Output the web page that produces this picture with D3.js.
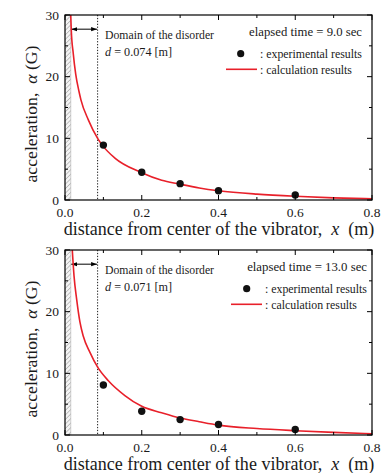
<!DOCTYPE html>
<html>
<head>
<meta charset="utf-8">
<script src="https://cdn.jsdelivr.net/npm/d3@7"></script>
<style>
  html, body { margin: 0; padding: 0; background: #fff; }
  svg { display: block; }
</style>
</head>
<body>
<svg id="chart" width="390" height="473" font-family="'Liberation Serif', 'Times New Roman', Times, serif"></svg>
<script>
// ---------------- DATA ----------------
const xTicks = [0.0, 0.2, 0.4, 0.6, 0.8];
const xTickLabels = ["0.0", "0.2", "0.4", "0.6", "0.8"];
const xMinorTicks = [0.1, 0.3, 0.5, 0.7];
const yTicks = [0, 10, 20, 30];
const yTickLabels = ["0", "10", "20", "30"];
const yMinorTicks = [5, 15, 25];

// Panel 1: elapsed time = 9.0 sec
const exp1X = [0.1, 0.2, 0.3, 0.4, 0.6];
const exp1Y = [8.9, 4.5, 2.65, 1.5, 0.8];
const calc1X = [0.0149, 0.0164, 0.0216, 0.0279, 0.0365, 0.0417, 0.0608, 0.085, 0.097, 0.130, 0.197, 0.252, 0.297, 0.35, 0.40, 0.50, 0.60, 0.70, 0.80];
const calc1Y = [30.0, 27.5, 23.7, 20.4, 17.6, 16.2, 13.0, 10.0, 8.9, 6.8, 4.5, 3.2, 2.6, 1.95, 1.5, 0.95, 0.6, 0.35, 0.2];
const time1 = "elapsed time = 9.0 sec";
const d1 = "0.074";

// Panel 2: elapsed time = 13.0 sec
const exp2X = [0.1, 0.2, 0.3, 0.4, 0.6];
const exp2Y = [8.1, 3.85, 2.5, 1.7, 0.9];
const calc2X = [0.019, 0.0235, 0.0304, 0.039, 0.0477, 0.065, 0.085, 0.113, 0.156, 0.20, 0.252, 0.30, 0.35, 0.40, 0.50, 0.60, 0.70, 0.80];
const calc2Y = [30.0, 25.8, 22.0, 18.3, 16.0, 13.4, 11.0, 8.8, 6.4, 4.65, 3.6, 2.75, 2.15, 1.6, 1.05, 0.7, 0.42, 0.2];
const time2 = "elapsed time = 13.0 sec";
const d2 = "0.071";

const vibratorEdge = 0.015;   // hatched region (vibrator)
const disorderEdge = [0.085, 0.085];
const arrowY = 27.7;

// -------------- DRAW ----------------
const svg = d3.select("#chart");
const defs = svg.append("defs");
const pat = defs.append("pattern")
  .attr("id", "hatch").attr("patternUnits", "userSpaceOnUse")
  .attr("width", 3.2).attr("height", 3.2)
  .attr("patternTransform", "rotate(45)");
pat.append("rect").attr("width", 3.2).attr("height", 3.2).attr("fill", "#f4f4f4");
pat.append("line").attr("x1", 0).attr("y1", 0).attr("x2", 0).attr("y2", 3.2)
  .attr("stroke", "#a0a0a0").attr("stroke-width", 1.2);

const marker = (id, orient) => {
  defs.append("marker").attr("id", id)
    .attr("viewBox", "0 0 10 10").attr("refX", 10).attr("refY", 5)
    .attr("markerWidth", 6).attr("markerHeight", 6)
    .attr("orient", orient)
    .append("path").attr("d", "M0,1.5 L10,5 L0,8.5 Z").attr("fill", "#000");
};
marker("arrEnd", "auto");
marker("arrStart", "auto-start-reverse");

// fit a text element's font size so that its rendered width equals target
function fit(sel, target) {
  const fs = +sel.attr("font-size");
  const w = sel.node().getComputedTextLength();
  if (w > 0) sel.attr("font-size", (fs * target / w).toFixed(2));
  return sel;
}

const W = 307, H = 185, L = 65;
const RED = "#e8202a";
const TXT = "#1a1a1a";

function panel(top, expX, expY, calcX, calcY, timeText, dText, legendShift, dEdge) {
  const x = d3.scaleLinear().domain([0, 0.8]).range([L, L + W]);
  const y = d3.scaleLinear().domain([0, 30]).range([top + H, top]);
  const g = svg.append("g");

  const clipId = "clip" + top;
  defs.append("clipPath").attr("id", clipId)
    .append("rect").attr("x", L).attr("y", top).attr("width", W).attr("height", H);

  // hatched vibrator region
  g.append("rect").attr("x", x(0)).attr("y", y(30))
    .attr("width", x(vibratorEdge) - x(0)).attr("height", y(0) - y(30))
    .attr("fill", "url(#hatch)");
  g.append("line").attr("x1", x(vibratorEdge)).attr("x2", x(vibratorEdge))
    .attr("y1", y(30)).attr("y2", y(0)).attr("stroke", "#b0b0b0").attr("stroke-width", 0.6);

  // dotted boundary line
  g.append("line").attr("x1", x(dEdge)).attr("x2", x(dEdge))
    .attr("y1", y(30)).attr("y2", y(0))
    .attr("stroke", "#000").attr("stroke-width", 0.9).attr("stroke-dasharray", "1.3,1.6");

  // arrow
  g.append("line").attr("x1", x(vibratorEdge) + 0.5).attr("x2", x(dEdge) - 0.5)
    .attr("y1", y(arrowY)).attr("y2", y(arrowY))
    .attr("stroke", "#000").attr("stroke-width", 1)
    .attr("marker-start", "url(#arrStart)").attr("marker-end", "url(#arrEnd)");

  // calculation curve
  const pts = calcX.map((v, i) => [v, calcY[i]]);
  g.append("path").datum(pts)
    .attr("clip-path", `url(#${clipId})`)
    .attr("fill", "none").attr("stroke", RED).attr("stroke-width", 1.6)
    .attr("d", d3.line().x(d => x(d[0])).y(d => y(d[1])).curve(d3.curveMonotoneX));

  // experimental points
  g.selectAll("circle.exp").data(expX.map((v, i) => [v, expY[i]])).enter()
    .append("circle").attr("class", "exp")
    .attr("cx", d => x(d[0])).attr("cy", d => y(d[1])).attr("r", 3.7).attr("fill", "#111");

  // frame
  g.append("rect").attr("x", L).attr("y", top).attr("width", W).attr("height", H)
    .attr("fill", "none").attr("stroke", "#000").attr("stroke-width", 1.2);

  // ticks (inward, all four sides)
  const tk = g.append("g").attr("stroke", "#000").attr("stroke-width", 1);
  xTicks.forEach(v => {
    tk.append("line").attr("x1", x(v)).attr("x2", x(v)).attr("y1", y(0)).attr("y2", y(0) - 5);
    tk.append("line").attr("x1", x(v)).attr("x2", x(v)).attr("y1", y(30)).attr("y2", y(30) + 5);
  });
  xMinorTicks.forEach(v => {
    tk.append("line").attr("x1", x(v)).attr("x2", x(v)).attr("y1", y(0)).attr("y2", y(0) - 3);
    tk.append("line").attr("x1", x(v)).attr("x2", x(v)).attr("y1", y(30)).attr("y2", y(30) + 3);
  });
  yTicks.forEach(v => {
    tk.append("line").attr("x1", L).attr("x2", L + 5).attr("y1", y(v)).attr("y2", y(v));
    tk.append("line").attr("x1", L + W).attr("x2", L + W - 5).attr("y1", y(v)).attr("y2", y(v));
  });
  yMinorTicks.forEach(v => {
    tk.append("line").attr("x1", L).attr("x2", L + 3).attr("y1", y(v)).attr("y2", y(v));
    tk.append("line").attr("x1", L + W).attr("x2", L + W - 3).attr("y1", y(v)).attr("y2", y(v));
  });

  // tick labels
  xTicks.forEach((v, i) => {
    g.append("text").attr("x", x(v)).attr("y", y(0) + 17).attr("text-anchor", "middle")
      .attr("font-size", 13.5).attr("fill", TXT).text(xTickLabels[i]);
  });
  yTicks.forEach((v, i) => {
    g.append("text").attr("x", L - 6).attr("y", y(v) + 4.5).attr("text-anchor", "end")
      .attr("font-size", 13.5).attr("fill", TXT).text(yTickLabels[i]);
  });

  // axis titles
  const xt = g.append("text").attr("x", 219).attr("y", top + H + 35).attr("text-anchor", "middle")
    .attr("font-size", 17).attr("fill", TXT).attr("xml:space", "preserve");
  xt.append("tspan").text("distance from center of the vibrator,  ");
  xt.append("tspan").attr("font-style", "italic").text("x");
  xt.append("tspan").text("  (m)");
  fit(xt, 311);

  const yt = g.append("text")
    .attr("transform", `translate(36.5,${top + 99}) rotate(-90)`)
    .attr("text-anchor", "middle").attr("font-size", 17).attr("fill", TXT)
    .attr("xml:space", "preserve");
  yt.append("tspan").text("acceleration,  ");
  yt.append("tspan").attr("font-style", "italic").text("α");
  yt.append("tspan").text(" (G)");
  fit(yt, 137);

  // annotation
  fit(g.append("text").attr("x", 105).attr("y", top + 24).attr("font-size", 12)
    .attr("fill", TXT).text("Domain of the disorder"), 109);
  const dt = g.append("text").attr("x", 105).attr("y", top + 41).attr("font-size", 12.2)
    .attr("fill", TXT).attr("xml:space", "preserve");
  dt.append("tspan").attr("font-style", "italic").text("d");
  dt.append("tspan").text(" = " + dText + " [m]");

  // legend
  fit(g.append("text").attr("x", 362 + legendShift).attr("y", top + 21).attr("text-anchor", "end")
    .attr("font-size", 12).attr("fill", TXT).text(timeText), 113 + (legendShift ? 7 : 0));
  g.append("circle").attr("cx", 240.7 + legendShift * 1.2).attr("cy", top + 38.7).attr("r", 3.6).attr("fill", "#111");
  fit(g.append("text").attr("x", 260 + legendShift).attr("y", top + 43).attr("font-size", 12)
    .attr("fill", TXT).text(": experimental results"), 102);
  g.append("line").attr("x1", 226 + legendShift).attr("x2", 257 + legendShift)
    .attr("y1", top + 54.3).attr("y2", top + 54.3).attr("stroke", RED).attr("stroke-width", 1.6);
  fit(g.append("text").attr("x", 260 + legendShift).attr("y", top + 58.5).attr("font-size", 12)
    .attr("fill", TXT).text(": calculation results"), 92);
}

panel(15, exp1X, exp1Y, calc1X, calc1Y, time1, d1, 0, disorderEdge[0]);
panel(250, exp2X, exp2Y, calc2X, calc2Y, time2, d2, 5, disorderEdge[1]);
</script>
</body>
</html>
